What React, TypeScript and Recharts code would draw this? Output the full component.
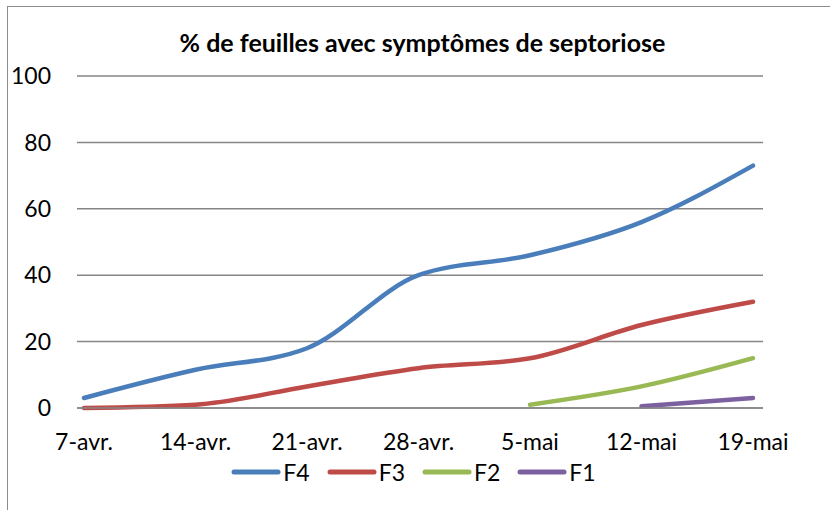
import { LineChart, Line, XAxis, YAxis, CartesianGrid } from 'recharts';

const dates = ['7-avr.', '14-avr.', '21-avr.', '28-avr.', '5-mai', '12-mai', '19-mai'];
const f4 = [3, 11.5, 18, 40, 46, 56, 73];
const f3 = [0, 1, 6.5, 12, 15, 25, 32];
const f2 = [null, null, null, null, 1, 6.5, 15];
const f1 = [null, null, null, null, null, 0.5, 3];
const yTicks = [0, 20, 40, 60, 80, 100];

const series = [
  { key: 'F4', values: f4, color: '#4A7EBB' },
  { key: 'F3', values: f3, color: '#BE4B48' },
  { key: 'F2', values: f2, color: '#98B954' },
  { key: 'F1', values: f1, color: '#7D60A0' },
];

const data = dates.map((d, i) => {
  const row: Record<string, string | number | null> = { date: d };
  series.forEach((s) => {
    row[s.key] = s.values[i];
  });
  return row;
});

const font = 'Lato, "Open Sans", sans-serif';

function LegendRow() {
  return (
    <div style={{ display: 'flex', justifyContent: 'center', alignItems: 'center', fontFamily: font, fontSize: 23, color: '#000', paddingLeft: 14 }}>
      {series.map((s) => (
        <div key={s.key} style={{ display: 'flex', alignItems: 'center', marginRight: 17 }}>
          <svg width={50} height={10}>
            <line x1={3} y1={5} x2={47} y2={5} stroke={s.color} strokeWidth={5} strokeLinecap="round" />
          </svg>
          <span style={{ marginLeft: 2 }}>{s.key}</span>
        </div>
      ))}
    </div>
  );
}

export default function App() {
  return (
    <div style={{ position: 'absolute', left: 0, top: 0, width: 830, height: 510, background: '#fff', overflow: 'hidden' }}>
      <div style={{ position: 'absolute', left: 7, top: 6, width: 900, height: 600, borderTop: '1.5px solid #8c8c8c', borderLeft: '1.5px solid #8c8c8c' }} />
      <div style={{ position: 'absolute', left: 0, top: 27, width: 845, textAlign: 'center', fontFamily: font, fontWeight: 700, fontSize: 25, color: '#000' }}>
        % de feuilles avec symptômes de septoriose
      </div>
      <div style={{ position: 'absolute', left: 0, top: 0 }}>
        <LineChart width={830} height={510} data={data} margin={{ top: 76, right: 67, bottom: 62, left: 0 }}>
          <CartesianGrid vertical={false} stroke="#868686" strokeWidth={1.5} />
          <XAxis
            dataKey="date"
            padding={{ left: 7, right: 10 }}
            axisLine={{ stroke: '#868686', strokeWidth: 1.5 }}
            tickLine={false}
            tickSize={0}
            tickMargin={26}
            height={40}
            interval={0}
            tick={{ fill: '#000', fontSize: 23, fontFamily: font }}
          />
          <YAxis
            domain={[0, 100]}
            ticks={yTicks}
            width={77}
            axisLine={false}
            tickLine={false}
            tickSize={0}
            tickMargin={26}
            tick={{ fill: '#000', fontSize: 23, fontFamily: font }}
          />
          {series.map((s) => (
            <Line
              key={s.key}
              type="monotone"
              dataKey={s.key}
              stroke={s.color}
              strokeWidth={4.5}
              strokeLinecap="round"
              dot={false}
              activeDot={false}
              isAnimationActive={false}
            />
          ))}
        </LineChart>
      </div>
      <div style={{ position: 'absolute', left: 0, top: 458, width: 830 }}>
        <LegendRow />
      </div>
    </div>
  );
}
